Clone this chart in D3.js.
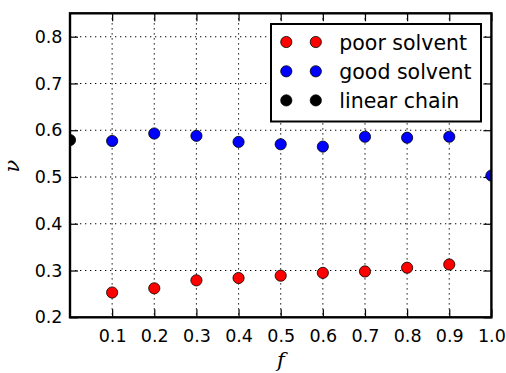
<!DOCTYPE html>
<html>
<head>
<meta charset="utf-8">
<script src="https://cdn.jsdelivr.net/npm/d3@7"></script>
<style>
  html, body { margin: 0; padding: 0; background: #fff; }
  svg { display: block; }
  text { font-family: "DejaVu Sans", sans-serif; fill: #000; }
</style>
</head>
<body>
<svg id="chart" width="506" height="373"></svg>
<script>
// Flory exponent nu versus fraction f
const fPoor = [0.1, 0.2, 0.3, 0.4, 0.5, 0.6, 0.7, 0.8, 0.9];
const nuPoor = [0.253, 0.262, 0.279, 0.284, 0.289, 0.295, 0.298, 0.306, 0.313];
const fGood = [0.1, 0.2, 0.3, 0.4, 0.5, 0.6, 0.7, 0.8, 0.9, 1.0];
const nuGood = [0.577, 0.593, 0.588, 0.575, 0.570, 0.565, 0.586, 0.584, 0.586, 0.503];
const fLinear = [0.0];
const nuLinear = [0.579];
const xTicks = [0.1, 0.2, 0.3, 0.4, 0.5, 0.6, 0.7, 0.8, 0.9, 1.0];
const yTicks = [0.2, 0.3, 0.4, 0.5, 0.6, 0.7, 0.8];
const seriesNames = ["poor solvent", "good solvent", "linear chain"];
const seriesColors = ["#ff0000", "#0000ff", "#000000"];

const svg = d3.select("#chart");
const L = 70, R = 491.4, T = 13.3, B = 317.3;

const x = d3.scaleLinear().domain([0, 1]).range([L, R]);
const y = d3.scaleLinear().domain([0.2, 0.85]).range([B, T]);

const tickLen = 8;
const fmt = d3.format(".1f");

// dotted grid
const grid = svg.append("g");
grid.selectAll("line.gx").data(xTicks).join("line")
  .attr("x1", d => x(d)).attr("x2", d => x(d))
  .attr("y1", T).attr("y2", B)
  .attr("stroke", "#000").attr("stroke-width", 1.1)
  .attr("stroke-dasharray", "1.3,3.7");
grid.selectAll("line.gy").data(yTicks).join("line")
  .attr("x1", L).attr("x2", R)
  .attr("y1", d => y(d)).attr("y2", d => y(d))
  .attr("stroke", "#000").attr("stroke-width", 1.1)
  .attr("stroke-dasharray", "1.3,3.7");

// axes with inward ticks on all four sides
const axB = d3.axisBottom(x).tickValues(xTicks).tickSizeInner(-tickLen).tickSizeOuter(0).tickPadding(12.5).tickFormat(fmt);
const axT = d3.axisTop(x).tickValues(xTicks).tickSizeInner(-tickLen).tickSizeOuter(0).tickFormat("");
const axL = d3.axisLeft(y).tickValues(yTicks).tickSizeInner(-tickLen).tickSizeOuter(0).tickPadding(7.5).tickFormat(fmt);
const axR = d3.axisRight(y).tickValues(yTicks).tickSizeInner(-tickLen).tickSizeOuter(0).tickFormat("");

function styleAxis(g) {
  g.attr("font-size", null).attr("font-family", null);
  g.select(".domain").remove();
  g.selectAll(".tick line").attr("stroke", "#000").attr("stroke-width", 1.2);
  g.selectAll(".tick text").style("font-family", "'DejaVu Sans', sans-serif").style("font-size", "17.5px").attr("fill", "#000");
}
svg.append("g").attr("transform", `translate(0,${B})`).call(axB).call(styleAxis);
svg.append("g").attr("transform", `translate(0,${T})`).call(axT).call(styleAxis);
svg.append("g").attr("transform", `translate(${L},0)`).call(axL).call(styleAxis);
svg.append("g").attr("transform", `translate(${R},0)`).call(axR).call(styleAxis);

// data points (clipped at the frame like the axes area)
svg.append("clipPath").attr("id", "plotClip")
  .append("rect").attr("x", L).attr("y", T).attr("width", R - L).attr("height", B - T);
const pts = svg.append("g").attr("clip-path", "url(#plotClip)");
const series = [
  { xs: fPoor, ys: nuPoor, c: seriesColors[0] },
  { xs: fGood, ys: nuGood, c: seriesColors[1] },
  { xs: fLinear, ys: nuLinear, c: seriesColors[2] }
];
series.forEach(s => {
  pts.append("g").selectAll("circle").data(s.xs.map((v, i) => [v, s.ys[i]])).join("circle")
    .attr("cx", d => x(d[0])).attr("cy", d => y(d[1]))
    .attr("r", 5.6).attr("fill", s.c).attr("stroke", "#000").attr("stroke-width", 0.8);
});

// frame
svg.append("rect").attr("x", L).attr("y", T).attr("width", R - L).attr("height", B - T)
  .attr("fill", "none").attr("stroke", "#000").attr("stroke-width", 2.4);

// legend
const lg = svg.append("g");
lg.append("rect").attr("x", 271).attr("y", 24).attr("width", 210).attr("height", 97.5)
  .attr("fill", "#fff").attr("stroke", "#000").attr("stroke-width", 2);
const rowY = [42, 71.3, 100.4];
seriesNames.forEach((name, i) => {
  [286.3, 315.8].forEach(mx => {
    lg.append("circle").attr("cx", mx).attr("cy", rowY[i]).attr("r", 5.6)
      .attr("fill", seriesColors[i]).attr("stroke", "#000").attr("stroke-width", 0.8);
  });
  lg.append("text").attr("x", 339.3).attr("y", rowY[i] + 7.5)
    .style("font-size", "20.5px").text(name);
});

// axis labels
svg.append("text").attr("x", 281).attr("y", 367).attr("text-anchor", "middle")
  .style("font-family", "'DejaVu Serif', serif").style("font-style", "italic").style("font-size", "21px").text("f");
svg.append("text").attr("transform", "translate(19,166) rotate(-90)").attr("text-anchor", "middle")
  .style("font-family", "'DejaVu Serif', serif").style("font-style", "italic").style("font-size", "21px").text("ν");
</script>
</body>
</html>
